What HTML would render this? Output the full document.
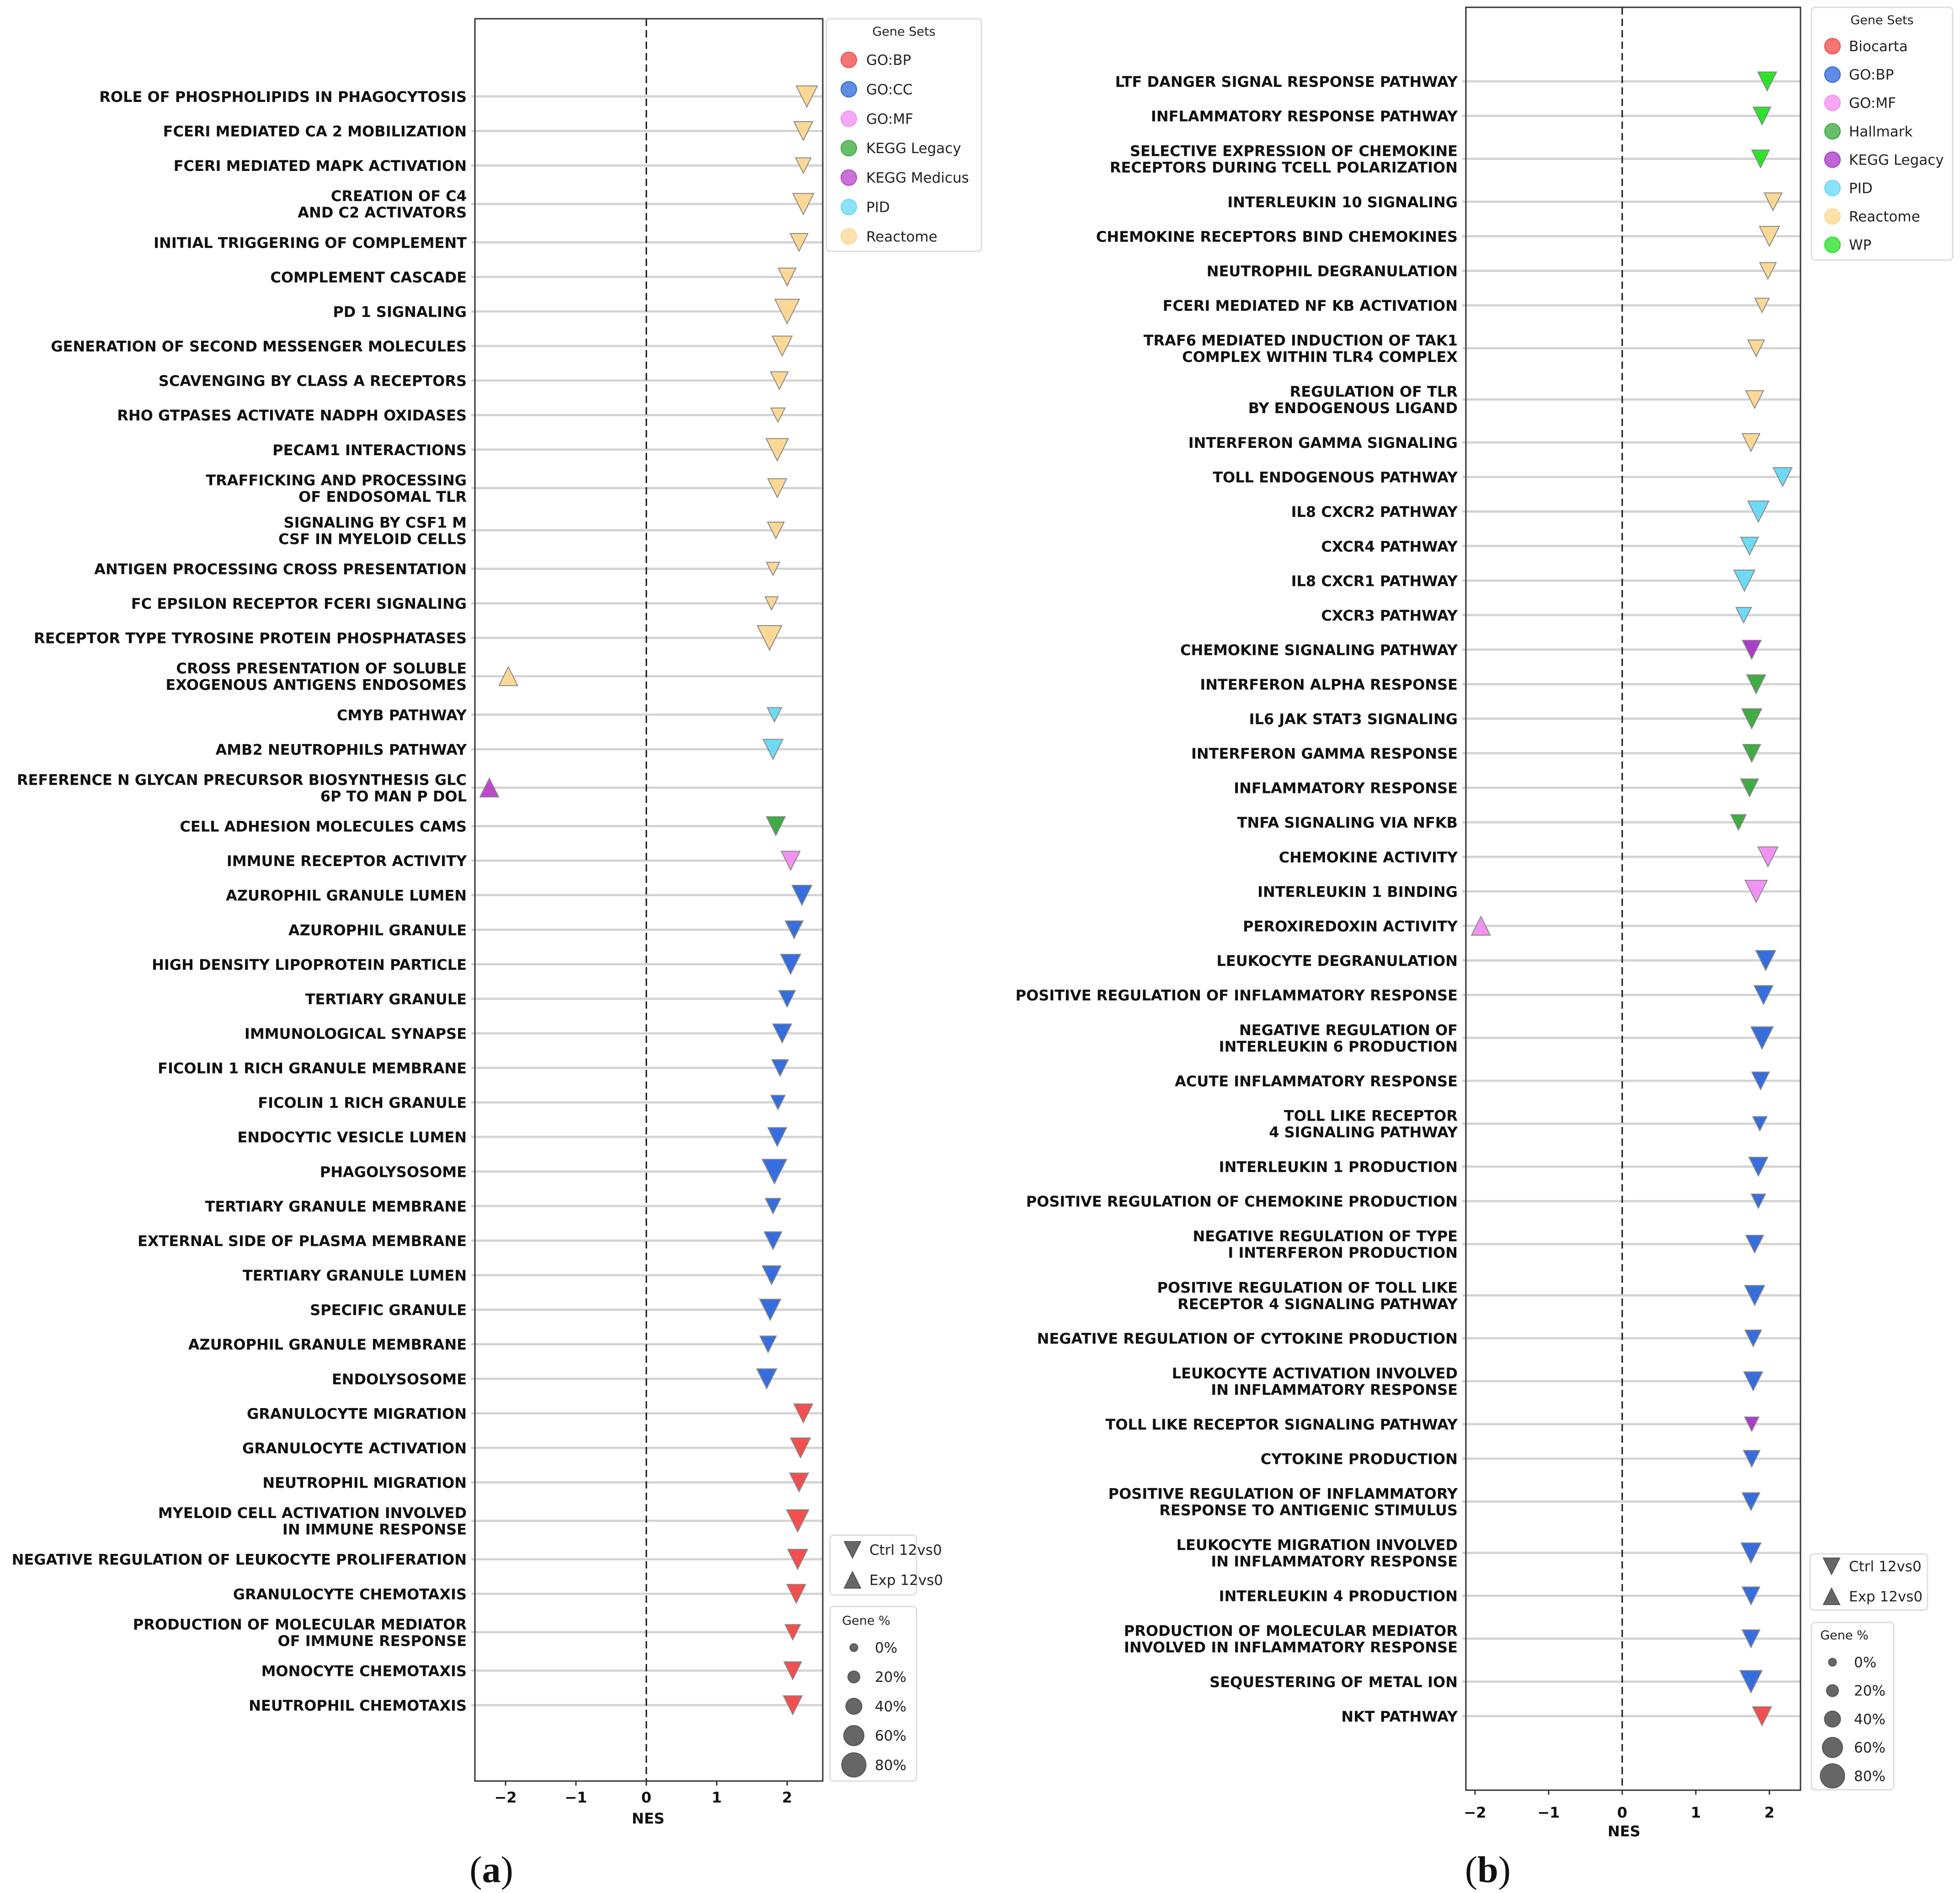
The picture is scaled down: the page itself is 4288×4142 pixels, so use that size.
<!DOCTYPE html>
<html><head><meta charset="utf-8"><style>
html,body{margin:0;padding:0;background:#fff;}
svg{display:block;}
text{font-family:"DejaVu Sans","Liberation Sans",sans-serif;}
</style></head>
<body>
<svg id="fig" xmlns="http://www.w3.org/2000/svg" width="4288" height="4142" viewBox="0 0 4288 4142">
<rect width="4288" height="4142" fill="#fff"/>
</svg>
<script>
// ---------- Panel A data ----------
const catsA = ["ROLE OF PHOSPHOLIPIDS IN PHAGOCYTOSIS","FCERI MEDIATED CA 2 MOBILIZATION","FCERI MEDIATED MAPK ACTIVATION","CREATION OF C4\nAND C2 ACTIVATORS","INITIAL TRIGGERING OF COMPLEMENT","COMPLEMENT CASCADE","PD 1 SIGNALING","GENERATION OF SECOND MESSENGER MOLECULES","SCAVENGING BY CLASS A RECEPTORS","RHO GTPASES ACTIVATE NADPH OXIDASES","PECAM1 INTERACTIONS","TRAFFICKING AND PROCESSING\nOF ENDOSOMAL TLR","SIGNALING BY CSF1 M\nCSF IN MYELOID CELLS","ANTIGEN PROCESSING CROSS PRESENTATION","FC EPSILON RECEPTOR FCERI SIGNALING","RECEPTOR TYPE TYROSINE PROTEIN PHOSPHATASES","CROSS PRESENTATION OF SOLUBLE\nEXOGENOUS ANTIGENS ENDOSOMES","CMYB PATHWAY","AMB2 NEUTROPHILS PATHWAY","REFERENCE N GLYCAN PRECURSOR BIOSYNTHESIS GLC\n6P TO MAN P DOL","CELL ADHESION MOLECULES CAMS","IMMUNE RECEPTOR ACTIVITY","AZUROPHIL GRANULE LUMEN","AZUROPHIL GRANULE","HIGH DENSITY LIPOPROTEIN PARTICLE","TERTIARY GRANULE","IMMUNOLOGICAL SYNAPSE","FICOLIN 1 RICH GRANULE MEMBRANE","FICOLIN 1 RICH GRANULE","ENDOCYTIC VESICLE LUMEN","PHAGOLYSOSOME","TERTIARY GRANULE MEMBRANE","EXTERNAL SIDE OF PLASMA MEMBRANE","TERTIARY GRANULE LUMEN","SPECIFIC GRANULE","AZUROPHIL GRANULE MEMBRANE","ENDOLYSOSOME","GRANULOCYTE MIGRATION","GRANULOCYTE ACTIVATION","NEUTROPHIL MIGRATION","MYELOID CELL ACTIVATION INVOLVED\nIN IMMUNE RESPONSE","NEGATIVE REGULATION OF LEUKOCYTE PROLIFERATION","GRANULOCYTE CHEMOTAXIS","PRODUCTION OF MOLECULAR MEDIATOR\nOF IMMUNE RESPONSE","MONOCYTE CHEMOTAXIS","NEUTROPHIL CHEMOTAXIS"];
const nesA = [2.28,2.23,2.23,2.23,2.17,2.0,2.0,1.93,1.89,1.87,1.86,1.86,1.84,1.80,1.78,1.75,-1.96,1.82,1.80,-2.23,1.84,2.05,2.21,2.10,2.05,2.0,1.93,1.90,1.87,1.86,1.82,1.80,1.80,1.78,1.76,1.73,1.71,2.23,2.19,2.17,2.15,2.15,2.13,2.08,2.08,2.08];
const pctA = [55,45,30,55,40,40,70,50,40,25,60,45,35,20,20,70,45,25,50,45,45,45,50,40,50,35,45,35,25,45,70,30,40,45,55,35,50,45,50,45,60,50,45,30,40,45];
const setA = ["Reactome","Reactome","Reactome","Reactome","Reactome","Reactome","Reactome","Reactome","Reactome","Reactome","Reactome","Reactome","Reactome","Reactome","Reactome","Reactome","Reactome","PID","PID","KEGG Medicus","KEGG Legacy","GO:MF","GO:CC","GO:CC","GO:CC","GO:CC","GO:CC","GO:CC","GO:CC","GO:CC","GO:CC","GO:CC","GO:CC","GO:CC","GO:CC","GO:CC","GO:CC","GO:BP","GO:BP","GO:BP","GO:BP","GO:BP","GO:BP","GO:BP","GO:BP","GO:BP"];
const dirA = ["v","v","v","v","v","v","v","v","v","v","v","v","v","v","v","v","^","v","v","^","v","v","v","v","v","v","v","v","v","v","v","v","v","v","v","v","v","v","v","v","v","v","v","v","v","v"];
const legendSetsA = ["GO:BP","GO:CC","GO:MF","KEGG Legacy","KEGG Medicus","PID","Reactome"];
const colorsA = {"GO:BP":"#f24646","GO:CC":"#2c66dc","GO:MF":"#f28cf2","KEGG Legacy":"#36a83a","KEGG Medicus":"#b840c8","PID":"#66d8f5","Reactome":"#fcd690"};

// ---------- Panel B data ----------
const catsB = ["LTF DANGER SIGNAL RESPONSE PATHWAY","INFLAMMATORY RESPONSE PATHWAY","SELECTIVE EXPRESSION OF CHEMOKINE\nRECEPTORS DURING TCELL POLARIZATION","INTERLEUKIN 10 SIGNALING","CHEMOKINE RECEPTORS BIND CHEMOKINES","NEUTROPHIL DEGRANULATION","FCERI MEDIATED NF KB ACTIVATION","TRAF6 MEDIATED INDUCTION OF TAK1\nCOMPLEX WITHIN TLR4 COMPLEX","REGULATION OF TLR\nBY ENDOGENOUS LIGAND","INTERFERON GAMMA SIGNALING","TOLL ENDOGENOUS PATHWAY","IL8 CXCR2 PATHWAY","CXCR4 PATHWAY","IL8 CXCR1 PATHWAY","CXCR3 PATHWAY","CHEMOKINE SIGNALING PATHWAY","INTERFERON ALPHA RESPONSE","IL6 JAK STAT3 SIGNALING","INTERFERON GAMMA RESPONSE","INFLAMMATORY RESPONSE","TNFA SIGNALING VIA NFKB","CHEMOKINE ACTIVITY","INTERLEUKIN 1 BINDING","PEROXIREDOXIN ACTIVITY","LEUKOCYTE DEGRANULATION","POSITIVE REGULATION OF INFLAMMATORY RESPONSE","NEGATIVE REGULATION OF\nINTERLEUKIN 6 PRODUCTION","ACUTE INFLAMMATORY RESPONSE","TOLL LIKE RECEPTOR\n4 SIGNALING PATHWAY","INTERLEUKIN 1 PRODUCTION","POSITIVE REGULATION OF CHEMOKINE PRODUCTION","NEGATIVE REGULATION OF TYPE\nI INTERFERON PRODUCTION","POSITIVE REGULATION OF TOLL LIKE\nRECEPTOR 4 SIGNALING PATHWAY","NEGATIVE REGULATION OF CYTOKINE PRODUCTION","LEUKOCYTE ACTIVATION INVOLVED\nIN INFLAMMATORY RESPONSE","TOLL LIKE RECEPTOR SIGNALING PATHWAY","CYTOKINE PRODUCTION","POSITIVE REGULATION OF INFLAMMATORY\nRESPONSE TO ANTIGENIC STIMULUS","LEUKOCYTE MIGRATION INVOLVED\nIN INFLAMMATORY RESPONSE","INTERLEUKIN 4 PRODUCTION","PRODUCTION OF MOLECULAR MEDIATOR\nINVOLVED IN INFLAMMATORY RESPONSE","SEQUESTERING OF METAL ION","NKT PATHWAY"];
const nesB = [1.97,1.90,1.88,2.05,2.00,1.98,1.90,1.82,1.80,1.75,2.18,1.85,1.73,1.66,1.65,1.76,1.82,1.76,1.76,1.73,1.58,1.98,1.82,-1.92,1.95,1.92,1.90,1.88,1.87,1.85,1.85,1.80,1.80,1.78,1.78,1.76,1.76,1.75,1.75,1.75,1.75,1.75,1.90];
const pctB = [45,40,40,40,50,35,25,35,40,40,45,55,40,55,30,45,45,50,40,40,30,50,60,45,50,45,60,40,25,45,25,40,50,35,45,25,35,40,50,40,40,60,45];
const setB = ["WP","WP","WP","Reactome","Reactome","Reactome","Reactome","Reactome","Reactome","Reactome","PID","PID","PID","PID","PID","KEGG Legacy","Hallmark","Hallmark","Hallmark","Hallmark","Hallmark","GO:MF","GO:MF","GO:MF","GO:BP","GO:BP","GO:BP","GO:BP","GO:BP","GO:BP","GO:BP","GO:BP","GO:BP","GO:BP","GO:BP","KEGG Legacy","GO:BP","GO:BP","GO:BP","GO:BP","GO:BP","GO:BP","Biocarta"];
const dirB = ["v","v","v","v","v","v","v","v","v","v","v","v","v","v","v","v","v","v","v","v","v","v","v","^","v","v","v","v","v","v","v","v","v","v","v","v","v","v","v","v","v","v","v"];
const legendSetsB = ["Biocarta","GO:BP","GO:MF","Hallmark","KEGG Legacy","PID","Reactome","WP"];
const colorsB = {"Biocarta":"#f24646","GO:BP":"#2c66dc","GO:MF":"#f28cf2","Hallmark":"#36a83a","KEGG Legacy":"#a833c8","PID":"#66d8f5","Reactome":"#fcd690","WP":"#22e022"};

const xTicks = [-2,-1,0,1,2];
const genePctTicks = [0,20,40,60,80];

const NS = "http://www.w3.org/2000/svg";
const svg = document.getElementById("fig");
function mk(tag, attrs, parent){
  const e = document.createElementNS(NS, tag);
  for (const k in attrs) e.setAttribute(k, attrs[k]);
  (parent||svg).appendChild(e);
  return e;
}
function markerSize(p){ return 17 + 0.45*p; }
function triPts(cx, cy, w, dir){
  const h = w/2;
  if (dir === "v") return `${cx-h},${cy-h} ${cx+h},${cy-h} ${cx},${cy+h}`;
  return `${cx-h},${cy+h} ${cx+h},${cy+h} ${cx},${cy-h}`;
}
function rowPositions(cats, y0, y1, extra){
  const raw = [0];
  for (let i=1;i<cats.length;i++){
    let g = 27.6;
    if (cats[i-1].includes("\n")) g += extra;
    if (cats[i].includes("\n")) g += extra;
    raw.push(raw[i-1]+g);
  }
  const tot = raw[raw.length-1];
  return raw.map(r => y0 + (y1-y0)*r/tot);
}

function panel(o){
  const g = mk("g", {});
  
  
  const xs = v => o.x0px + v*o.unit;
  const ys = rowPositions(o.cats, o.yFirst, o.yLast, o.extra);
  ys.forEach((y,i)=>{
    const l = mk("line",{x1:o.left-8,x2:o.right,y1:y,y2:y,stroke:"#d4d4d4","stroke-width":5},g);
    
    
  });
  const z = mk("line",{x1:xs(0),x2:xs(0),y1:o.top,y2:o.bottom,stroke:"#111","stroke-width":3,"stroke-dasharray":"16,9"},g);
  
  
  const fr = mk("rect",{x:o.left,y:o.top,width:o.right-o.left,height:o.bottom-o.top,fill:"none",stroke:"#333","stroke-width":3},g);
  
  
  ys.forEach((y,i)=>{
    const lines = o.cats[i].split("\n");
    const t = mk("text",{x:o.left-18,"text-anchor":"end","font-size":32,"font-weight":"bold",fill:"#111"},g);
    
    
    if (lines.length===1){
      t.setAttribute("y", y+12);
      t.textContent = lines[0];
    } else {
      lines.forEach((ln,k)=>{
        const ts = mk("tspan",{x:o.left-18,y:y-6+k*36},t);
        ts.textContent = ln;
      });
    }
  });
  ys.forEach((y,i)=>{
    const w = markerSize(o.pct[i])*1.1;
    const p = mk("polygon",{points:triPts(xs(o.nes[i]),y,w,o.dir[i]),fill:o.colors[o.sets[i]],stroke:"#888","stroke-width":2,"fill-opacity":0.95},g);
    
    
  });
  xTicks.forEach(v=>{
    const x = xs(v);
    const tk = mk("line",{x1:x,x2:x,y1:o.bottom,y2:o.bottom+10,stroke:"#333","stroke-width":3},g);
    
    
    const tl = mk("text",{x:x,y:o.tickY,"text-anchor":"middle","font-size":32,"font-weight":"bold",fill:"#111"},g);
    
    
    tl.textContent = v<0 ? "\u2212"+Math.abs(v) : String(v);
  });
  const xt = mk("text",{x:xs(0)+4,y:o.nesY,"text-anchor":"middle","font-size":32,"font-weight":"bold",fill:"#111"},g);
  
  
  xt.textContent = "NES";
  const cap = mk("text",{x:o.capX,y:4118,"text-anchor":"middle","font-size":82,fill:"#111"},g);
  
  
  cap.style.fontFamily = '"Liberation Serif", serif';
  cap.innerHTML = "(<tspan font-weight='bold'>" + o.letter + "</tspan>)";

  const L = o.legSets;
  const lg = mk("g",{},g);
  
  
  mk("rect",{x:L.x,y:L.y,width:L.w,height:L.h,rx:8,fill:"#fff",stroke:"#ddd","stroke-width":3},lg);
  const lt = mk("text",{x:L.x+L.w/2,y:L.titleY,"text-anchor":"middle","font-size":27,fill:"#222"},lg);
  lt.textContent = "Gene Sets";
  o.legendSets.forEach((s,k)=>{
    const y = L.first + k*L.step;
    const c = mk("circle",{cx:L.cx,cy:y,r:17,fill:o.colors[s],"fill-opacity":0.75,stroke:o.colors[s],"stroke-width":2},lg);
    
    
    const t = mk("text",{x:L.tx,y:y+11,"font-size":31,fill:"#222"},lg);
    
    
    t.textContent = s;
  });
  const D = o.legDir;
  const dg = mk("g",{},g);
  
  
  mk("rect",{x:D.x,y:D.y,width:D.w,height:D.h,rx:8,fill:"#fff",stroke:"#ddd","stroke-width":3},dg);
  [["v","Ctrl 12vs0",D.y1],["^","Exp 12vs0",D.y2]].forEach(([d,lab,y])=>{
    mk("polygon",{points:triPts(D.cx,y,36,d),fill:"#666",stroke:"#555","stroke-width":2},dg);
    const t = mk("text",{x:D.tx,y:y+11,"font-size":31,fill:"#222"},dg);
    
    
    t.textContent = lab;
  });
  const P = o.legPct;
  const pg = mk("g",{},g);
  
  
  mk("rect",{x:P.x,y:P.y,width:P.w,height:P.h,rx:8,fill:"#fff",stroke:"#ddd","stroke-width":3},pg);
  const pt = mk("text",{x:P.titleX,y:P.titleY,"text-anchor":"middle","font-size":27,fill:"#222"},pg);
  pt.textContent = "Gene %";
  genePctTicks.forEach((v,k)=>{
    const y = P.first + k*P.step;
    const c = mk("circle",{cx:P.cx,cy:y,r:markerSize(v)/2,fill:"#666",stroke:"#555","stroke-width":2},pg);
    
    
    const t = mk("text",{x:P.tx,y:y+11,"font-size":31,fill:"#222"},pg);
    
    
    t.textContent = v + "%";
  });
}

panel({name:"panel-a", letter:"a", extra:3.1, cats:catsA, nes:nesA, pct:pctA, sets:setA, dir:dirA, colors:colorsA, legendSets:legendSetsA,
  left:1039, right:1800, top:41, bottom:3897, x0px:1414, unit:154, yFirst:211, yLast:3731, tickY:3944, nesY:3990, capX:1075,
  legSets:{x:1808,y:41,w:339,h:509,titleY:78,first:131,step:64.4,cx:1857,tx:1895},
  legDir:{x:1816,y:3359,w:189,h:131,y1:3391,y2:3457,cx:1865,tx:1902},
  legPct:{x:1816,y:3515,w:189,h:382,titleX:1895,titleY:3555,first:3605,step:64.2,cx:1868,tx:1914}
});
panel({name:"panel-b", letter:"b", extra:6.7, cats:catsB, nes:nesB, pct:pctB, sets:setB, dir:dirB, colors:colorsB, legendSets:legendSetsB,
  left:3207, right:3939, top:16, bottom:3917, x0px:3549, unit:161, yFirst:178, yLast:3755, tickY:3977, nesY:4018, capX:3255,
  legSets:{x:3963,y:16,w:309,h:553,titleY:53,first:101,step:62.1,cx:4009,tx:4045},
  legDir:{x:3960,y:3400,w:257,h:123,y1:3427,y2:3493,cx:4007,tx:4045},
  legPct:{x:3963,y:3550,w:180,h:366,titleX:4035,titleY:3587,first:3637,step:62.2,cx:4009,tx:4056}
});
</script>
</body></html>
